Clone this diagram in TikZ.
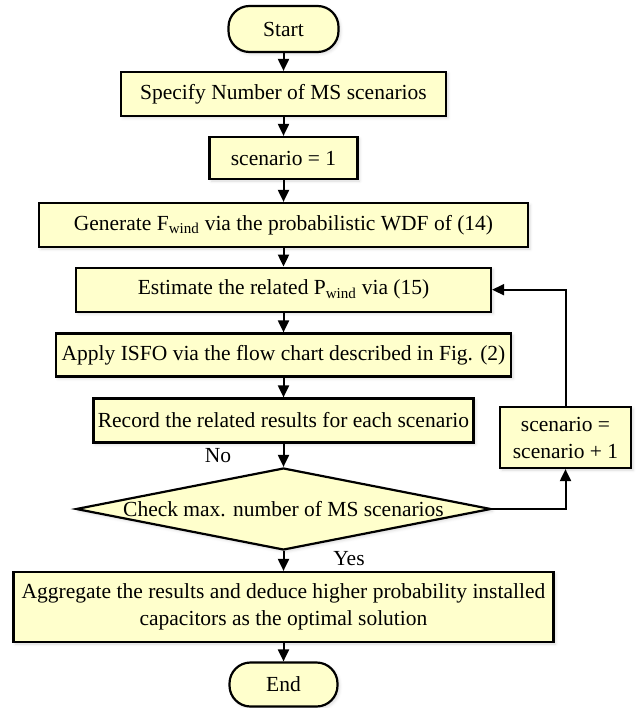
\documentclass[tikz,border=0pt]{standalone}
\usepackage{fontspec}
\setmainfont{Liberation Serif}
\usetikzlibrary{arrows.meta,shapes.geometric,shadows.blur}
\definecolor{boxfill}{RGB}{255,255,204}
\begin{document}
\begin{tikzpicture}[x=1pt,y=-1pt,
  every node/.style={font=\fontsize{21.5}{27}\selectfont},
  box/.style={draw=black, line width=2.2pt, fill=boxfill, inner sep=0pt, align=center,
    blur shadow={shadow xshift=2pt, shadow yshift=-2pt, shadow opacity=15, shadow blur radius=3pt}},
  term/.style={box, rounded corners=21pt},
  dec/.style={box, diamond},
  arr/.style={line width=2pt, -{Triangle[length=12pt,width=11pt]}},
  lbl/.style={fill=white, inner sep=2pt}]
\useasboundingbox (0,0) rectangle (638,708);

\node[term, minimum width=110pt, minimum height=46pt] (start) at (283.5,29) {Start};
\node[box, minimum width=325pt, minimum height=44pt] (spec) at (283.5,94) {Specify Number of MS scenarios};
\node[box, minimum width=148pt, minimum height=42pt] (s1) at (283.5,158) {scenario = 1};
\node[box, minimum width=489pt, minimum height=44pt] (gen) at (283.5,225) {Generate F\textsubscript{wind} via the probabilistic WDF of (14)};
\node[box, minimum width=415pt, minimum height=44pt] (est) at (283.5,289.7) {Estimate the related P\textsubscript{wind} via (15)};
\node[box, minimum width=455pt, minimum height=43pt] (apply) at (283.5,355) {Apply ISFO via the flow chart described in Fig. (2)};
\node[box, minimum width=380pt, minimum height=44pt] (rec) at (283.5,420.5) {Record the related results for each scenario};
\node[dec, minimum width=415pt, minimum height=82pt] (chk) at (283.5,509) {\makebox[0pt]{Check max. number of MS scenarios}};
\node[box, minimum width=131pt, minimum height=61pt] (inc) at (565.5,437.5) {scenario =\\scenario + 1};
\node[box, minimum width=540pt, minimum height=70pt] (agg) at (283.5,607) {Aggregate the results and deduce higher probability installed\\capacitors as the optimal solution};
\node[term, minimum width=108pt, minimum height=44pt] (end) at (283.5,684.5) {End};

\node[lbl] (no) at (218,456) {No};
\node[lbl] (yes) at (349,559) {Yes};

\draw[arr] (start) -- (spec);
\draw[arr] (spec) -- (s1);
\draw[arr] (s1) -- (gen);
\draw[arr] (gen) -- (est);
\draw[arr] (est) -- (apply);
\draw[arr] (apply) -- (rec);
\draw[arr] (rec) -- (chk.north);
\draw[arr] (chk.south) -- (agg);
\draw[arr] (agg) -- (end);
\draw[arr] (chk.east) -| (inc.south);
\draw[arr] (inc.north) |- (est.east);
\end{tikzpicture}
\end{document}
